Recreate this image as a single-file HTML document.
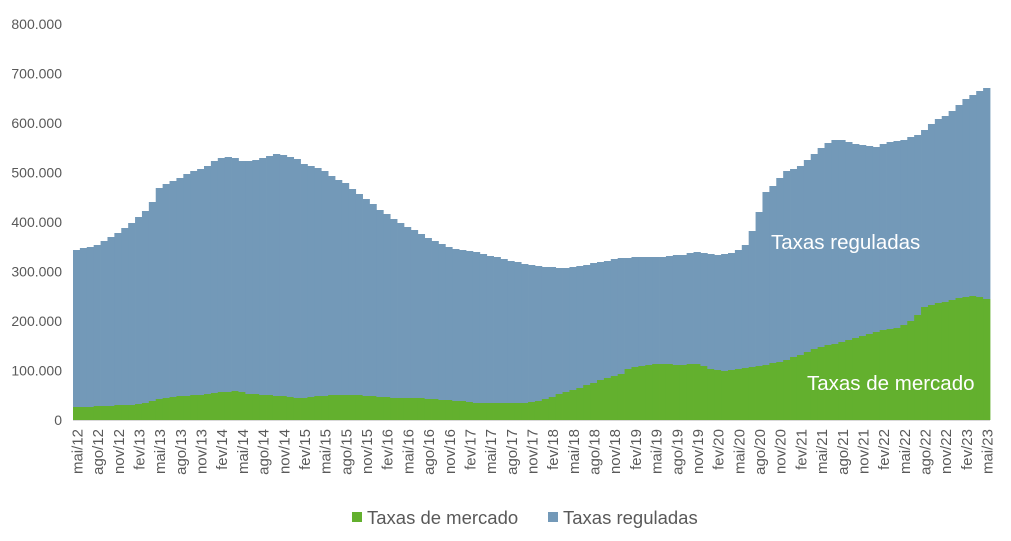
<!DOCTYPE html>
<html><head><meta charset="utf-8"><style>
html,body{margin:0;padding:0;background:#fff;width:1011px;height:541px;overflow:hidden}
svg text{font-family:"Liberation Sans",sans-serif;fill:#595959}
</style></head><body>
<svg id="c" width="1011" height="541" xmlns="http://www.w3.org/2000/svg"></svg>
<script>
const svg=document.getElementById('c');const NS='http://www.w3.org/2000/svg';
function el(t,a,txt){const e=document.createElementNS(NS,t);for(const k in a)e.setAttribute(k,a[k]);if(txt!=null)e.textContent=txt;svg.appendChild(e);return e;}
const top_=[[73,250],[80,249],[95,246],[110,238],[125,228],[140,216],[150,207],[160,186],[170,182],[180,178],[195,170],[205,168],[215,160],[225,157],[235,158],[245,162],[255,160],[265,158],[275,154],[285,155],[295,158],[305,165],[320,168],[330,175],[345,183],[360,195],[370,202],[380,210],[395,220],[410,228],[425,236],[445,246],[460,250],[480,253],[500,258],[520,263],[540,266],[560,268],[575,267],[590,264],[600,262],[620,258],[640,257],[660,257],[680,255],[700,252],[720,255],[735,252],[745,245],[755,225],[765,193],[775,184],[785,172],[800,166],[815,153],[830,141],[840,139],[850,143],[865,146],[875,147],[885,143],[900,141],[920,134],[935,121],[945,116],[955,109],[965,100],[975,93],[990,87]];
const grn=[[73,407],[110,406],[140,404],[160,399],[180,396],[200,395],[220,392],[240,391],[250,394],[280,396],[300,398],[320,396],[340,395],[360,395],[380,397],[400,398],[420,398],[440,400],[460,401],[480,403],[500,403],[520,403],[535,402],[545,399],[560,394],[580,388],[600,380],[620,375],[630,368],[640,366],[660,364],[680,365],[700,364],[710,369],[725,371],[740,369],[760,366],[780,362],[800,355],[820,347],[840,343],[860,337],[880,331],[900,327],[915,318],[925,306],[940,303],[960,298],[975,296],[985,299],[990,300]];
function interp(p,x){if(x<=p[0][0])return p[0][1];for(let i=1;i<p.length;i++){if(x<=p[i][0]){const a=p[i-1],b=p[i];return a[1]+(b[1]-a[1])*(x-a[0])/(b[0]-a[0]);}}return p[p.length-1][1];}
const N=133,x0=73,x1=990,w=(x1-x0)/N,base=420;
for(let i=0;i<N;i++){const xa=x0+i*w,xc=xa+w/2;const t=Math.round(interp(top_,xc)),g=Math.round(interp(grn,xc));
el('rect',{x:xa.toFixed(2),y:t,width:(w+0.4).toFixed(2),height:g-t,fill:'#7399b8'});
el('rect',{x:xa.toFixed(2),y:g,width:(w+0.4).toFixed(2),height:base-g,fill:'#63b02e'});}
el('line',{x1:x0,y1:420.5,x2:x1,y2:420.5,stroke:'#d9d9d9','stroke-width':1});
const yl=['0','100.000','200.000','300.000','400.000','500.000','600.000','700.000','800.000'];
for(let i=0;i<9;i++){el('text',{x:62,y:420-i*49.5+5,'text-anchor':'end','font-size':14},yl[i]);}
const mo=['mai','ago','nov','fev'];
for(let k=0;k<45;k++){const i=k*3;const xc=x0+i*w+w/2;const m=mo[k%4];const yr=12+Math.floor((k+1)/4);
el('text',{x:0,y:0,'text-anchor':'end','font-size':15,transform:`translate(${(xc+6).toFixed(1)},429) rotate(-90)`},m+'/'+yr);}
el('text',{x:771,y:249,'font-size':20.5,style:'fill:#fff'},'Taxas reguladas');
el('text',{x:807,y:390,'font-size':20.5,style:'fill:#fff'},'Taxas de mercado');
el('rect',{x:352,y:512,width:10,height:10,fill:'#63b02e'});
el('text',{x:367,y:524,'font-size':18.5},'Taxas de mercado');
el('rect',{x:548,y:512,width:10,height:10,fill:'#7399b8'});
el('text',{x:563,y:524,'font-size':18.5},'Taxas reguladas');
</script>
</body></html>
